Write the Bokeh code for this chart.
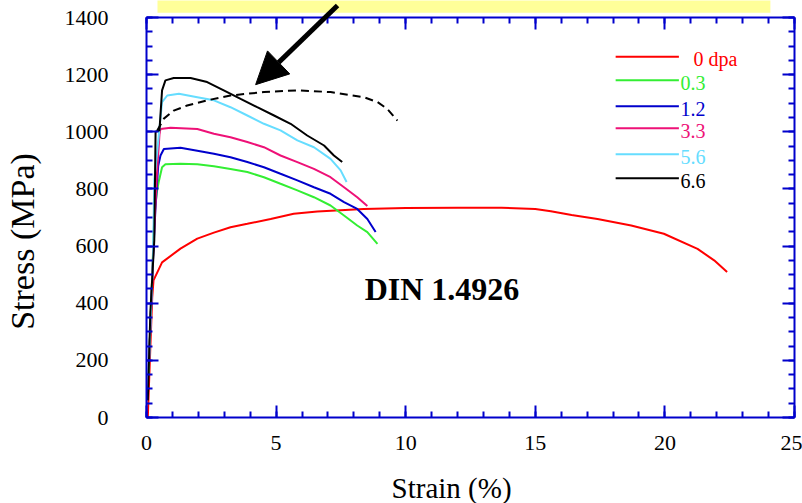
import math
from bokeh.plotting import figure
from bokeh.models import Range1d, LinearAxis, Label, Arrow, NormalHead, BoxAnnotation, SingleIntervalTicker
from bokeh.embed import file_html
from bokeh.resources import INLINE

# ---- data ----
strain_0dpa = [0.05, 0.15, 0.22, 0.27, 0.6, 1.31, 1.96, 2.6, 3.24, 3.89, 4.79, 5.68, 6.59, 8.38, 10.0, 12.0, 13.7, 15.0, 15.6, 16.4, 17.4, 18.7, 19.96, 21.26, 21.9, 22.4]
stress_0dpa = [0, 250, 420, 480, 543, 591, 626, 647, 666, 678, 695, 713, 721, 730, 733, 734, 734, 730, 722, 709, 695, 672, 643, 590, 550, 509]

strain_03 = [0.08, 0.2, 0.3, 0.4, 0.47, 0.6, 0.73, 1.31, 1.96, 2.6, 3.24, 3.89, 4.53, 5.17, 5.82, 6.46, 7.1, 7.62, 8.13, 8.52, 8.91]
stress_03 = [150, 450, 700, 790, 824, 876, 886, 888, 886, 879, 870, 859, 841, 818, 795, 771, 742, 707, 672, 649, 608]

strain_12 = [0.1, 0.25, 0.35, 0.45, 0.54, 0.67, 1.31, 1.96, 2.6, 3.24, 3.89, 4.53, 5.17, 5.82, 6.46, 7.1, 7.62, 8.13, 8.52, 8.84]
stress_12 = [200, 550, 740, 880, 917, 940, 944, 934, 923, 911, 894, 876, 853, 830, 806, 783, 754, 730, 695, 649]

strain_33 = [0.1, 0.25, 0.4, 0.5, 0.54, 0.93, 1.96, 2.6, 3.24, 3.89, 4.53, 5.17, 5.82, 6.46, 7.1, 7.62, 8.13, 8.52]
stress_33 = [200, 560, 850, 990, 1010, 1014, 1010, 993, 981, 964, 946, 917, 894, 870, 841, 806, 771, 740]

strain_56 = [0.1, 0.25, 0.3, 0.48, 0.6, 0.8, 1.25, 1.96, 2.6, 3.24, 3.89, 4.53, 5.17, 5.82, 6.46, 7.1, 7.49, 7.72]
stress_56 = [200, 560, 830, 993, 1104, 1127, 1133, 1121, 1110, 1086, 1057, 1028, 1005, 970, 946, 905, 865, 824]

strain_66 = [0.05, 0.15, 0.3, 0.35, 0.5, 0.6, 0.73, 1.05, 1.7, 2.34, 2.98, 3.63, 4.27, 4.92, 5.56, 6.2, 6.85, 7.23, 7.55]
stress_66 = [60, 370, 620, 1000, 1005, 1145, 1180, 1188, 1188, 1174, 1145, 1115, 1086, 1057, 1028, 987, 952, 917, 894]

strain_ref = [0.41, 0.67, 1.05, 1.57, 2.34, 3.24, 4.53, 5.82, 7.1, 8.39, 8.91, 9.29, 9.68]
stress_ref = [1004, 1046, 1074, 1092, 1110, 1127, 1139, 1145, 1139, 1121, 1104, 1080, 1039]

series_labels = ["0 dpa", "0.3", "1.2", "3.3", "5.6", "6.6"]
series_colors = ["#FF0000", "#33EE33", "#0000CC", "#EE1177", "#66DDFF", "#000000"]

x_min, x_max = 0, 25
y_min, y_max = 0, 1400
x_ticks_major = 5
y_ticks_major = 200

FONT = "Liberation Serif"
BLUE = "#0000CC"

# The plotting frame covers the whole canvas; the axes are pinned at the data
# box (fixed_location) so that the decorations above/left of it are not clipped.
p = figure(width=802, height=503, x_range=Range1d(-5.633, 25.309), y_range=Range1d(-301, 1459.5),
           output_backend="svg", toolbar_location=None,
           x_axis_location=None, y_axis_location=None,
           min_border_left=0, min_border_right=0, min_border_top=0, min_border_bottom=0)
p.grid.visible = False
p.outline_line_color = None
p.background_fill_color = "white"
p.border_fill_color = "white"


def style_axis(ax):
    ax.axis_line_color = BLUE
    ax.axis_line_width = 2
    ax.major_tick_line_color = BLUE
    ax.minor_tick_line_color = BLUE
    ax.major_tick_line_width = 2
    ax.minor_tick_line_width = 2
    ax.major_tick_in = 12
    ax.major_tick_out = 0
    ax.minor_tick_in = 6
    ax.minor_tick_out = 0
    ax.major_label_text_font = FONT
    ax.major_label_text_font_size = "22px"
    ax.major_label_text_color = "black"


bottom = LinearAxis(ticker=SingleIntervalTicker(interval=x_ticks_major, num_minor_ticks=5),
                    fixed_location=y_min, bounds=(x_min, x_max))
left = LinearAxis(ticker=SingleIntervalTicker(interval=y_ticks_major, num_minor_ticks=4),
                  fixed_location=x_min, bounds=(y_min, y_max))
top = LinearAxis(ticker=SingleIntervalTicker(interval=x_ticks_major, num_minor_ticks=5),
                 fixed_location=y_max, bounds=(x_min, x_max),
                 major_label_overrides={v: "" for v in range(0, 30, 5)})
right = LinearAxis(ticker=SingleIntervalTicker(interval=y_ticks_major, num_minor_ticks=4),
                   fixed_location=x_max, bounds=(y_min, y_max),
                   major_label_overrides={v: "" for v in range(0, 1600, 200)})
for ax in [bottom, left, top, right]:
    style_axis(ax)
bottom.major_label_standoff = 18
left.major_label_standoff = 38
p.add_layout(bottom, "below")
p.add_layout(left, "left")
p.add_layout(top, "above")
p.add_layout(right, "right")

# axis titles
p.add_layout(Label(x=-4.78, y=616, text="Stress (MPa)", angle=math.pi / 2, text_font=FONT,
                   text_font_size="34px", text_align="center", text_baseline="middle",
                   text_color="black"))
p.add_layout(Label(x=11.77, y=-248, text="Strain (%)", text_font=FONT,
                   text_font_size="29px", text_align="center", text_baseline="middle",
                   text_color="black"))

# yellow band above the frame
p.add_layout(BoxAnnotation(left=0.424, right=24.07, bottom=1417, top=1480,
                           fill_color="#FFFF99", fill_alpha=1, line_alpha=0))

series = [(strain_0dpa, stress_0dpa), (strain_03, stress_03), (strain_12, stress_12),
          (strain_33, stress_33), (strain_56, stress_56), (strain_66, stress_66)]
for (xs, ys), c in zip(series, series_colors):
    p.line(xs, ys, line_color=c, line_width=2)

p.line(strain_ref, stress_ref, line_color="black", line_width=2, line_dash="8 5")

# legend (drawn manually)
leg_y = [1263, 1180, 1089, 1012, 921, 837]
for i, (lab, c) in enumerate(zip(series_labels, series_colors)):
    p.segment(x0=[18.1], y0=[leg_y[i]], x1=[20.54], y1=[leg_y[i]], line_color=c, line_width=2)
    p.add_layout(Label(x=21.1 if i == 0 else 20.6, y=leg_y[i] - 8, text=lab, text_color=c,
                       text_font=FONT, text_font_size="20px", text_baseline="middle"))

p.add_layout(Label(x=11.4, y=449, text="DIN 1.4926", text_font=FONT, text_font_size="32px",
                   text_font_style="bold", text_align="center", text_baseline="middle", text_color="black"))

p.add_layout(Arrow(end=NormalHead(size=32, fill_color="black", line_color="black"),
                   x_start=7.37, y_start=1442, x_end=4.21, y_end=1165,
                   line_width=5, line_color="black"))

open("out.html", "w").write(file_html(p, INLINE))
